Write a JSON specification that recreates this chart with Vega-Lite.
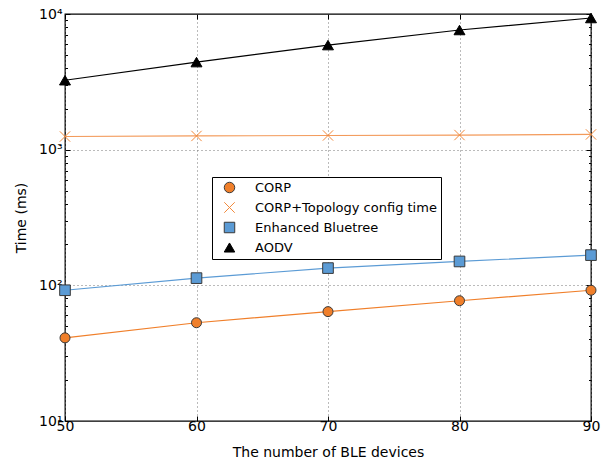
{
  "$schema": "https://vega.github.io/schema/vega-lite/v6.json",
  "autosize": "none",
  "padding": {"left": 65, "top": 14, "right": 19, "bottom": 42},
  "width": 526,
  "height": 407,
  "config": {
    "font": "DejaVu Sans",
    "view": {"stroke": "#000000", "strokeWidth": 1.3},
    "axis": {"domain": false, "labelFont": "DejaVu Sans", "titleFont": "DejaVu Sans", "labelFontSize": 14, "titleFontSize": 14, "titleFontWeight": "normal", "labelColor": "#000", "titleColor": "#000", "tickColor": "#000"},
    "legend": {"orient": "none", "legendX": 147, "legendY": 163, "strokeColor": "#000", "fillColor": "#fff", "padding": 4, "cornerRadius": 0, "labelFont": "DejaVu Sans", "labelFontSize": 13, "labelColor": "#000", "labelLimit": 400, "symbolSize": 110, "rowPadding": 5, "symbolOffset": 7, "labelOffset": 19, "symbolStrokeWidth": 1}
  },
  "data": {
    "values": [
      {"n": 50, "t": 41, "s": "CORP"},
      {"n": 60, "t": 53, "s": "CORP"},
      {"n": 70, "t": 64, "s": "CORP"},
      {"n": 80, "t": 77, "s": "CORP"},
      {"n": 90, "t": 92, "s": "CORP"},
      {"n": 50, "t": 1250, "s": "CORP+Topology config time"},
      {"n": 60, "t": 1262, "s": "CORP+Topology config time"},
      {"n": 70, "t": 1272, "s": "CORP+Topology config time"},
      {"n": 80, "t": 1282, "s": "CORP+Topology config time"},
      {"n": 90, "t": 1295, "s": "CORP+Topology config time"},
      {"n": 50, "t": 92, "s": "Enhanced Bluetree"},
      {"n": 60, "t": 113, "s": "Enhanced Bluetree"},
      {"n": 70, "t": 134, "s": "Enhanced Bluetree"},
      {"n": 80, "t": 150, "s": "Enhanced Bluetree"},
      {"n": 90, "t": 167, "s": "Enhanced Bluetree"},
      {"n": 50, "t": 3250, "s": "AODV"},
      {"n": 60, "t": 4420, "s": "AODV"},
      {"n": 70, "t": 5900, "s": "AODV"},
      {"n": 80, "t": 7620, "s": "AODV"},
      {"n": 90, "t": 9340, "s": "AODV"}
    ]
  },
  "layer": [
    {
      "mark": {"type": "line", "strokeWidth": 1.2},
      "encoding": {
        "x": {"field": "n", "type": "quantitative", "scale": {"domain": [50, 90], "nice": false, "zero": false},
          "axis": {"orient": "bottom", "title": "The number of BLE devices", "values": [50, 60, 70, 80, 90], "tickSize": -5, "labelPadding": 3, "titlePadding": 12, "grid": true, "gridDash": [1, 3], "gridColor": "#777", "gridWidth": 1, "labelFlush": false}},
        "y": {"field": "t", "type": "quantitative", "scale": {"type": "log", "domain": [10, 10000], "nice": false},
          "axis": {"orient": "left", "title": "Time (ms)", "titlePadding": 10, "titleColor": "#000000",
            "values": [10, 20, 30, 40, 50, 60, 70, 80, 90, 100, 200, 300, 400, 500, 600, 700, 800, 900, 1000, 2000, 3000, 4000, 5000, 6000, 7000, 8000, 9000, 10000],
            "labelExpr": "datum.value==10?'10¹':datum.value==100?'10²':datum.value==1000?'10³':datum.value==10000?'10⁴':''",
            "labelOverlap": false, "labelBound": false, "labelFlush": false,
            "tickSize": {"condition": {"test": "datum.value==10||datum.value==100||datum.value==1000||datum.value==10000", "value": -5}, "value": -2.5},
            "labelPadding": 8,
            "grid": true, "gridDash": [1, 3], "gridColor": "#777",
            "gridOpacity": {"condition": {"test": "datum.value==100||datum.value==1000", "value": 1}, "value": 0}}},
        "color": {"field": "s", "type": "nominal", "legend": null,
          "scale": {"domain": ["AODV", "Enhanced Bluetree", "CORP+Topology config time", "CORP"], "range": ["#000000", "#5B9BD5", "#F39A5A", "#F07F2A"]}}
      }
    },
    {
      "mark": {"type": "point", "strokeWidth": 1, "opacity": 1},
      "encoding": {
        "x": {"field": "n", "type": "quantitative",
          "axis": {"orient": "top", "title": null, "labels": false, "values": [50, 60, 70, 80, 90], "tickSize": -5, "grid": false}},
        "y": {"field": "t", "type": "quantitative",
          "axis": {"orient": "right", "title": null, "labels": false, "grid": false,
            "values": [10, 20, 30, 40, 50, 60, 70, 80, 90, 100, 200, 300, 400, 500, 600, 700, 800, 900, 1000, 2000, 3000, 4000, 5000, 6000, 7000, 8000, 9000, 10000],
            "tickSize": {"condition": {"test": "datum.value==10||datum.value==100||datum.value==1000||datum.value==10000", "value": -5}, "value": -2.5}}},
        "shape": {"field": "s", "type": "nominal", "title": null,
          "scale": {"domain": ["CORP", "CORP+Topology config time", "Enhanced Bluetree", "AODV"], "range": ["circle", "M-1,-1L1,1M-1,1L1,-1", "square", "triangle-up"]}},
        "fill": {"field": "s", "type": "nominal", "title": null,
          "scale": {"domain": ["CORP", "CORP+Topology config time", "Enhanced Bluetree", "AODV"], "range": ["#F07F2A", "transparent", "#5B9BD5", "#000000"]}},
        "stroke": {"field": "s", "type": "nominal", "title": null,
          "scale": {"domain": ["CORP", "CORP+Topology config time", "Enhanced Bluetree", "AODV"], "range": ["#3a3a3a", "#F28A3C", "#3a3a3a", "#000000"]}},
        "size": {"field": "s", "type": "nominal", "legend": null,
          "scale": {"domain": ["AODV", "Enhanced Bluetree", "CORP+Topology config time", "CORP"], "range": [120, 100, 100, 85]}}
      }
    }
  ],
  "resolve": {"axis": {"x": "independent", "y": "independent"}}
}
